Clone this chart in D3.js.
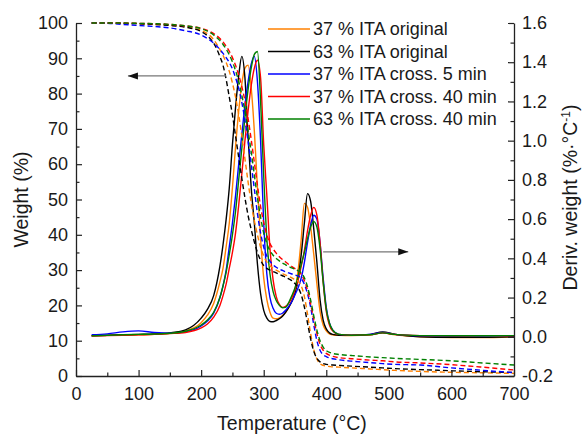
<!DOCTYPE html>
<html><head><meta charset="utf-8">
<script src="https://cdn.jsdelivr.net/npm/d3@7"></script>
<style>
html,body{margin:0;padding:0;background:#fff;}
svg text{font-family:"Liberation Sans",Arial,sans-serif;fill:#1a1a1a;}
</style></head>
<body><svg id="c" width="584" height="437"></svg>
<script>
// ---------- data ----------
const seriesNames = ["37 % ITA original","63 % ITA original","37 % ITA cross. 5 min","37 % ITA cross. 40 min","63 % ITA cross. 40 min"];
const temperature = [25,50,75,100,125,150,175,200,210,220,230,235,240,245,250,255,260,265,270,275,280,285,290,295,300,305,310,315,320,325,330,335,340,345,350,355,360,365,370,375,380,385,390,395,400,405,410,420,440,470,490,510,550,600,650,700];

// derivative weight (%/°C), right axis
const dtg37orig = [0.005,0.007,0.008,0.01,0.012,0.018,0.03,0.072,0.11,0.17,0.28,0.35,0.46,0.58,0.76,0.97,1.15,1.29,1.37,1.385,1.27,1.05,0.76,0.5,0.3,0.19,0.125,0.095,0.092,0.097,0.108,0.125,0.15,0.185,0.24,0.34,0.5,0.68,0.66,0.56,0.42,0.27,0.13,0.06,0.03,0.015,0.01,0.007,0.006,0.01,0.02,0.01,0.0,-0.004,-0.004,0.0];
const dtg63orig = [0.005,0.008,0.01,0.012,0.014,0.02,0.035,0.095,0.14,0.21,0.36,0.47,0.6,0.76,0.98,1.17,1.33,1.43,1.32,1.02,0.76,0.58,0.37,0.22,0.135,0.095,0.078,0.077,0.083,0.092,0.105,0.125,0.15,0.18,0.22,0.3,0.42,0.58,0.73,0.69,0.55,0.38,0.19,0.085,0.04,0.02,0.012,0.008,0.007,0.012,0.025,0.012,0.0,-0.003,-0.003,0.0];
const dtg37x5 = [0.01,0.015,0.025,0.03,0.022,0.018,0.025,0.055,0.08,0.12,0.2,0.26,0.34,0.46,0.58,0.72,0.88,1.03,1.18,1.3,1.39,1.43,1.3,1.0,0.58,0.32,0.2,0.145,0.12,0.115,0.12,0.135,0.155,0.18,0.215,0.25,0.3,0.38,0.48,0.57,0.62,0.6,0.48,0.3,0.15,0.07,0.035,0.012,0.008,0.012,0.022,0.012,0.005,0.003,0.004,0.005];
const dtg37x40 = [0.005,0.006,0.008,0.01,0.012,0.016,0.022,0.045,0.065,0.1,0.16,0.21,0.27,0.35,0.43,0.53,0.67,0.83,1.0,1.15,1.28,1.37,1.41,1.32,0.98,0.72,0.45,0.29,0.205,0.165,0.15,0.155,0.17,0.2,0.24,0.29,0.36,0.44,0.54,0.62,0.66,0.62,0.48,0.28,0.13,0.06,0.03,0.012,0.008,0.01,0.02,0.012,0.006,0.005,0.006,0.005];
const dtg63x40 = [0.005,0.007,0.01,0.012,0.014,0.018,0.028,0.06,0.085,0.125,0.2,0.26,0.33,0.42,0.52,0.64,0.8,0.96,1.12,1.26,1.37,1.44,1.455,1.2,0.82,0.5,0.32,0.23,0.185,0.16,0.148,0.15,0.175,0.21,0.25,0.31,0.37,0.43,0.5,0.56,0.587,0.56,0.45,0.28,0.14,0.07,0.035,0.012,0.008,0.01,0.02,0.012,0.006,0.005,0.005,0.006];

// weight (%), left axis
const tga37orig = [100,100,99.9,99.8,99.6,99.4,98.9,97.9,97,95.3,92.5,90.8,88.8,86.3,83,79,74,68,61.5,55,49,44,40,36.5,34,32.3,31.2,30.5,30,29.5,29,28.6,28.2,27.8,27.3,26.8,25.5,22.5,17.5,12,7.5,4.8,3.5,3,2.8,2.7,2.6,2.5,2.3,2,1.8,1.6,1.3,1.05,0.9,0.75];
const tga63orig = [100,100,99.9,99.8,99.6,99.3,98.8,97.6,96.4,94.3,90.5,88,84,79,74,68,62,56,50.5,45.5,41.5,38,35,32.8,31.3,30.5,30,29.6,29.2,28.8,28.4,28,27.5,27,26.2,25,23,19.5,15,10.5,7,5,4,3.5,3.3,3.2,3.1,3,2.8,2.5,2.3,2.1,1.8,1.5,1.2,1.0];
const tga37x5 = [100,99.9,99.6,99.3,99,98.6,97.8,96.6,95.6,94.3,92.5,91.4,90.2,88.8,87,84.5,81.5,77.5,72.5,66.5,60,53,46,40.5,36.5,34,32.5,31.5,30.8,30.3,29.9,29.5,29.2,28.9,28.6,28.3,27.6,26,23.3,19.5,14.5,10,7.3,6,5.5,5.1,4.9,4.6,4.2,3.8,3.5,3.3,3.1,2.3,1.6,0.95];
const tga37x40 = [100,100,100,99.9,99.8,99.6,99.2,98.5,97.9,97,95.6,94.6,93.4,92,90.2,88,85.3,82,78,73,67,60.5,54,48,43.5,40,37.5,36,34.8,33.8,33,32.3,31.6,31,30.4,29.8,28.8,27,24.3,20.5,16,12,9,7.3,6.4,5.9,5.6,5.2,4.9,4.5,4.3,4,3.7,3.2,2.5,1.7];
const tga63x40 = [100,100,100,99.9,99.8,99.6,99.2,98.4,97.7,96.6,95,93.9,92.6,91,89,86.5,83.5,79.5,75,69.5,63.5,57,50.5,45,40.5,37.5,35.5,34.2,33.3,32.6,32,31.5,31,30.6,30.2,29.8,29.2,27.8,25.3,21.5,17,13,10,8.2,7.2,6.7,6.4,6.1,5.8,5.4,5.2,5,4.7,4.3,3.7,3.1];

const xTicks = [0,100,200,300,400,500,600,700];
const yLeftTicks = [0,10,20,30,40,50,60,70,80,90,100];
const yRightTicks = [-0.2,0,0.2,0.4,0.6,0.8,1.0,1.2,1.4,1.6];
const yRightLabels = ["-0.2","0.0","0.2","0.4","0.6","0.8","1.0","1.2","1.4","1.6"];
// annotation arrows: [from T, to T, value]
const arrowWeight = [240, 83, 85];      // points to left axis
const arrowDeriv = [395, 531, 0.433];   // points to right axis

// ---------- styles ----------
const colors = ["#ff8000","#000000","#0000ff","#ff0000","#008000"];
const dtgSets = [dtg37orig,dtg63orig,dtg37x5,dtg37x40,dtg63x40];
const tgaSets = [tga37orig,tga63orig,tga37x5,tga37x40,tga63x40];

const svg = d3.select("#c");
const L=76, R=514, T=23, B=376;
const x = d3.scaleLinear().domain([0,700]).range([L,R]);
const yL = d3.scaleLinear().domain([0,100]).range([B,T]);
const yR = d3.scaleLinear().domain([-0.2,1.6]).range([B,T]);

// curves
const plot = svg.append("g");
dtgSets.forEach((vals,i)=>{
  const line = d3.line().x((d,j)=>x(temperature[j])).y(d=>yR(d)).curve(d3.curveMonotoneX);
  plot.append("path").attr("d",line(vals)).attr("fill","none").attr("stroke",colors[i]).attr("stroke-width",1.4);
});
tgaSets.forEach((vals,i)=>{
  const line = d3.line().x((d,j)=>x(temperature[j])).y(d=>yL(d)).curve(d3.curveMonotoneX);
  plot.append("path").attr("d",line(vals)).attr("fill","none").attr("stroke",colors[i]).attr("stroke-width",1.4).attr("stroke-dasharray","5,3");
});

// axes
const fs = 18;
function styleAxis(g){
  g.selectAll("path.domain").attr("stroke","#222").attr("stroke-width",1.3);
  g.selectAll(".tick line").attr("stroke","#222").attr("stroke-width",1.2);
  g.selectAll("text").attr("font-size",fs).attr("font-family","Liberation Sans, Arial, sans-serif").attr("fill","#1a1a1a");
}
const gx = svg.append("g").attr("transform",`translate(0,${B})`)
  .call(d3.axisBottom(x).tickValues(xTicks).tickSizeInner(-6).tickSizeOuter(0).tickPadding(11).tickFormat(d3.format("d")));
styleAxis(gx);
const gxm = svg.append("g").attr("transform",`translate(0,${B})`)
  .call(d3.axisBottom(x).tickValues(d3.range(50,700,100)).tickSizeInner(-3.5).tickSizeOuter(0).tickFormat(""));
styleAxis(gxm); gxm.select("path.domain").remove();

const gl = svg.append("g").attr("transform",`translate(${L},0)`)
  .call(d3.axisLeft(yL).tickValues(yLeftTicks).tickSizeInner(-6).tickSizeOuter(0).tickPadding(8).tickFormat(d3.format("d")));
styleAxis(gl);
const glm = svg.append("g").attr("transform",`translate(${L},0)`)
  .call(d3.axisLeft(yL).tickValues(d3.range(5,100,10)).tickSizeInner(-3.5).tickSizeOuter(0).tickFormat(""));
styleAxis(glm); glm.select("path.domain").remove();

const gr = svg.append("g").attr("transform",`translate(${R},0)`)
  .call(d3.axisRight(yR).tickValues(yRightTicks).tickSizeInner(-6).tickSizeOuter(0).tickPadding(8)
  .tickFormat((d,i)=>yRightLabels[i]));
styleAxis(gr);
const grm = svg.append("g").attr("transform",`translate(${R},0)`)
  .call(d3.axisRight(yR).tickValues(d3.range(-0.1,1.6,0.2)).tickSizeInner(-3.5).tickSizeOuter(0).tickFormat(""));
styleAxis(grm); grm.select("path.domain").remove();

// axis titles
svg.append("text").attr("x",(L+R)/2-3).attr("y",430).attr("text-anchor","middle").attr("font-size",19.5).text("Temperature (°C)");
svg.append("text").attr("transform",`translate(28,${(T+B)/2}) rotate(-90)`).attr("text-anchor","middle").attr("font-size",19.5).text("Weight (%)");
const rt = svg.append("text").attr("transform",`translate(577,${(T+B)/2-2}) rotate(-90)`).attr("text-anchor","middle").attr("font-size",19.5);
rt.append("tspan").text("Deriv. weight (%·°C");
rt.append("tspan").attr("dy",-7).attr("font-size",12).text("-1");
rt.append("tspan").attr("dy",7).text(")");

// arrows
function arrow(x1,y1,x2,y2){
  svg.append("line").attr("x1",x1).attr("y1",y1).attr("x2",x2).attr("y2",y2).attr("stroke","#777").attr("stroke-width",1.3);
  const dir = Math.sign(x2-x1);
  svg.append("path").attr("d",`M${x2},${y2} L${x2-dir*10},${y2-3.5} L${x2-dir*10},${y2+3.5} Z`).attr("fill","#111");
}
arrow(x(arrowWeight[0]),yL(arrowWeight[2]),x(arrowWeight[1]),yL(arrowWeight[2]));
arrow(x(arrowDeriv[0]),yR(arrowDeriv[2]),x(arrowDeriv[1]),yR(arrowDeriv[2]));

// legend
const lg = svg.append("g");
seriesNames.forEach((n,i)=>{
  const yy = 29 + i*22.5;
  lg.append("line").attr("x1",268).attr("x2",310).attr("y1",yy).attr("y2",yy).attr("stroke",colors[i]).attr("stroke-width",1.4);
  lg.append("text").attr("x",313).attr("y",yy).attr("dy","0.35em").attr("font-size",fs).text(n);
});
</script></body></html>
